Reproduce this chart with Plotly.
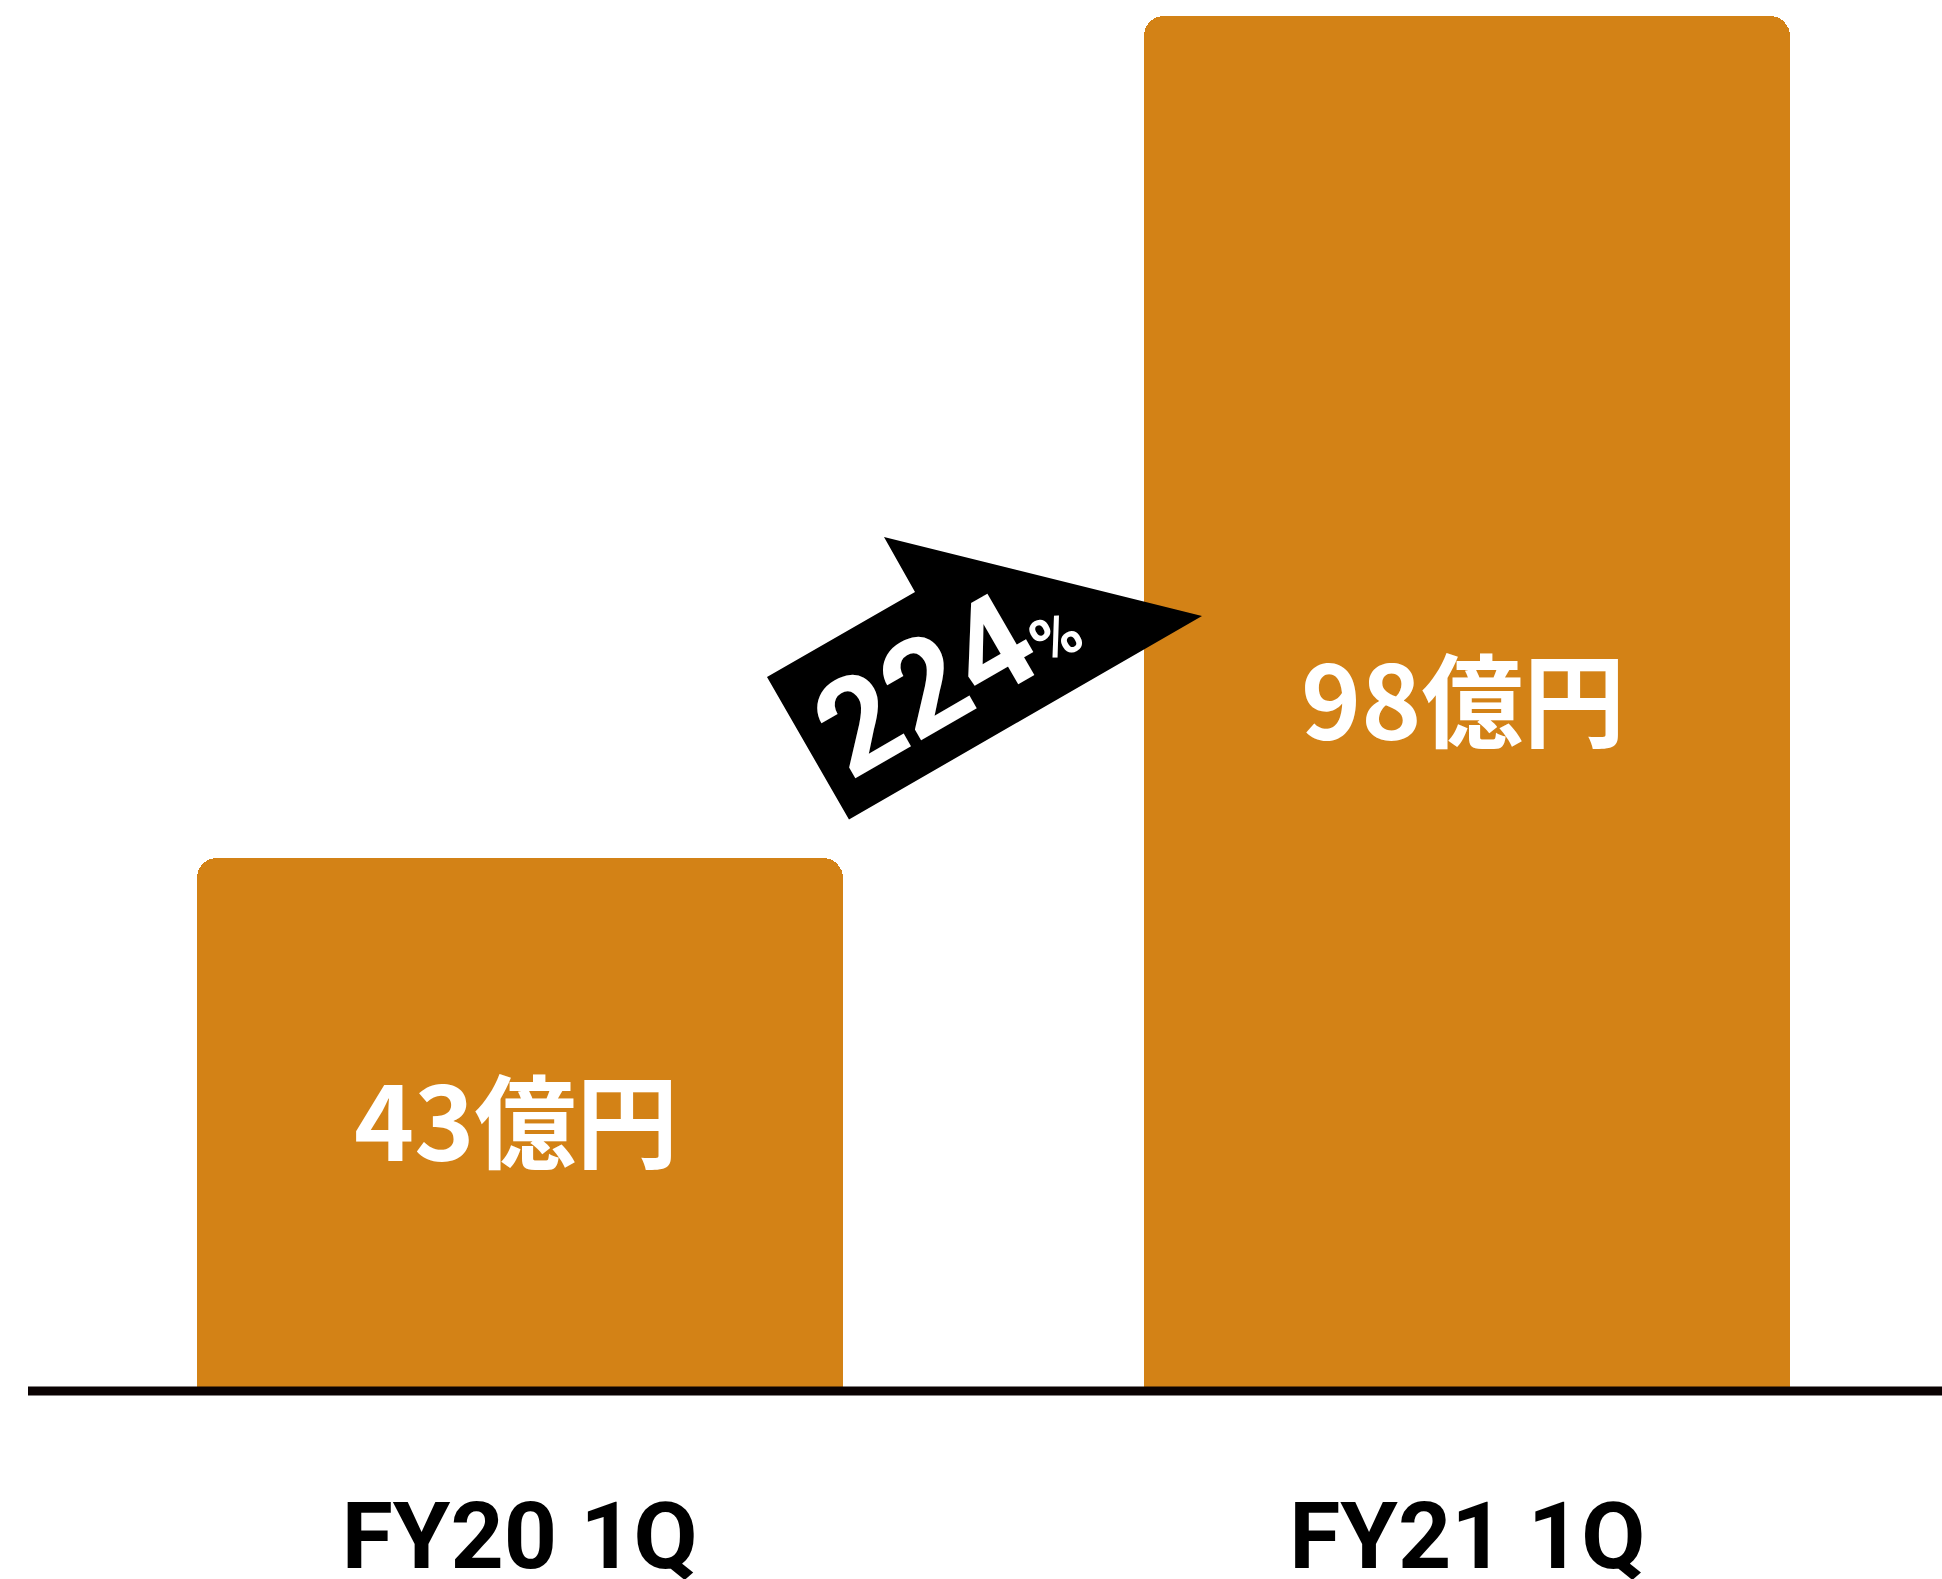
import plotly.graph_objects as go

# Quarterly revenue, in 億円
categories = ["FY20 1Q", "FY21 1Q"]
revenue = [43, 98]
value_unit = "億円"
growth_value = "224"
growth_unit = "%"

# Canvas and plot-area geometry (px)
W, H = 1942, 1579
M_L, M_R, M_T, M_B = 28, 0, 10, 188
PLOT_W = W - M_L - M_R
PLOT_H = H - M_T - M_B

# The value axis is cut a little above zero so both bars fit the frame
AXIS_FLOOR = 8.18
AXIS_CEIL = 98.39
X_RANGE = [-0.519, 1.501]
BAR_WIDTH = 0.682

BAR_COLOR = "#D38216"
INK = "#0A0202"


def to_paper(px, py):
    """Pixel position on the canvas -> paper coordinates."""
    return (px - M_L) / PLOT_W, (H - M_B - py) / PLOT_H


fig = go.Figure()
fig.add_trace(
    go.Bar(
        x=categories,
        y=revenue,
        width=BAR_WIDTH,
        marker=dict(color=BAR_COLOR, line=dict(width=0), cornerradius=20),
        hoverinfo="skip",
    )
)

# Value labels centred in the visible part of each bar
for cat, val in zip(categories, revenue):
    fig.add_annotation(
        x=cat,
        y=(AXIS_FLOOR + val) / 2,
        xref="x",
        yref="y",
        yshift=8,
        xshift=-4,
        text=f"{val}{value_unit}",
        showarrow=False,
        font=dict(family="Noto Sans CJK JP", size=102, color="white", weight="bold"),
        xanchor="center",
        yanchor="middle",
    )

# Growth arrow pointing from the first bar towards the second
arrow_px = [(849, 819.5), (767, 677), (915, 592), (884, 537), (1202, 616)]
pts = [to_paper(x, y) for x, y in arrow_px]
path = "M " + " L ".join(f"{x:.5f},{y:.5f}" for x, y in pts) + " Z"
fig.add_shape(
    type="path",
    path=path,
    xref="paper",
    yref="paper",
    fillcolor="black",
    line=dict(width=0),
    layer="above",
)

gx, gy = to_paper(946, 674)
fig.add_annotation(
    x=gx,
    y=gy,
    xref="paper",
    yref="paper",
    text=f"{growth_value}<span style='font-size:64px'>{growth_unit}</span>",
    textangle=-30,
    showarrow=False,
    font=dict(family="Roboto", size=132, color="white", weight="bold"),
    xanchor="center",
    yanchor="middle",
)

# Baseline along the bottom of the plot area (floor of the value axis)
fig.add_shape(
    type="line",
    xref="paper",
    yref="paper",
    x0=0,
    x1=1,
    y0=0,
    y1=0,
    line=dict(color=INK, width=9),
    layer="above",
)

fig.update_layout(
    width=W,
    height=H,
    margin=dict(l=M_L, r=M_R, t=M_T, b=M_B, pad=0),
    paper_bgcolor="white",
    plot_bgcolor="white",
    showlegend=False,
    bargap=0,
    xaxis=dict(
        type="category",
        range=X_RANGE,
        showgrid=False,
        zeroline=False,
        showline=False,
        ticks="",
        tickfont=dict(family="Roboto", size=93, color="black", weight="bold"),
        ticklabelstandoff=83,
        automargin=False,
        fixedrange=True,
    ),
    yaxis=dict(
        range=[AXIS_FLOOR, AXIS_CEIL],
        visible=False,
        showgrid=False,
        zeroline=False,
        automargin=False,
        fixedrange=True,
    ),
)

fig.write_html("out.html", config={"displayModeBar": False})
